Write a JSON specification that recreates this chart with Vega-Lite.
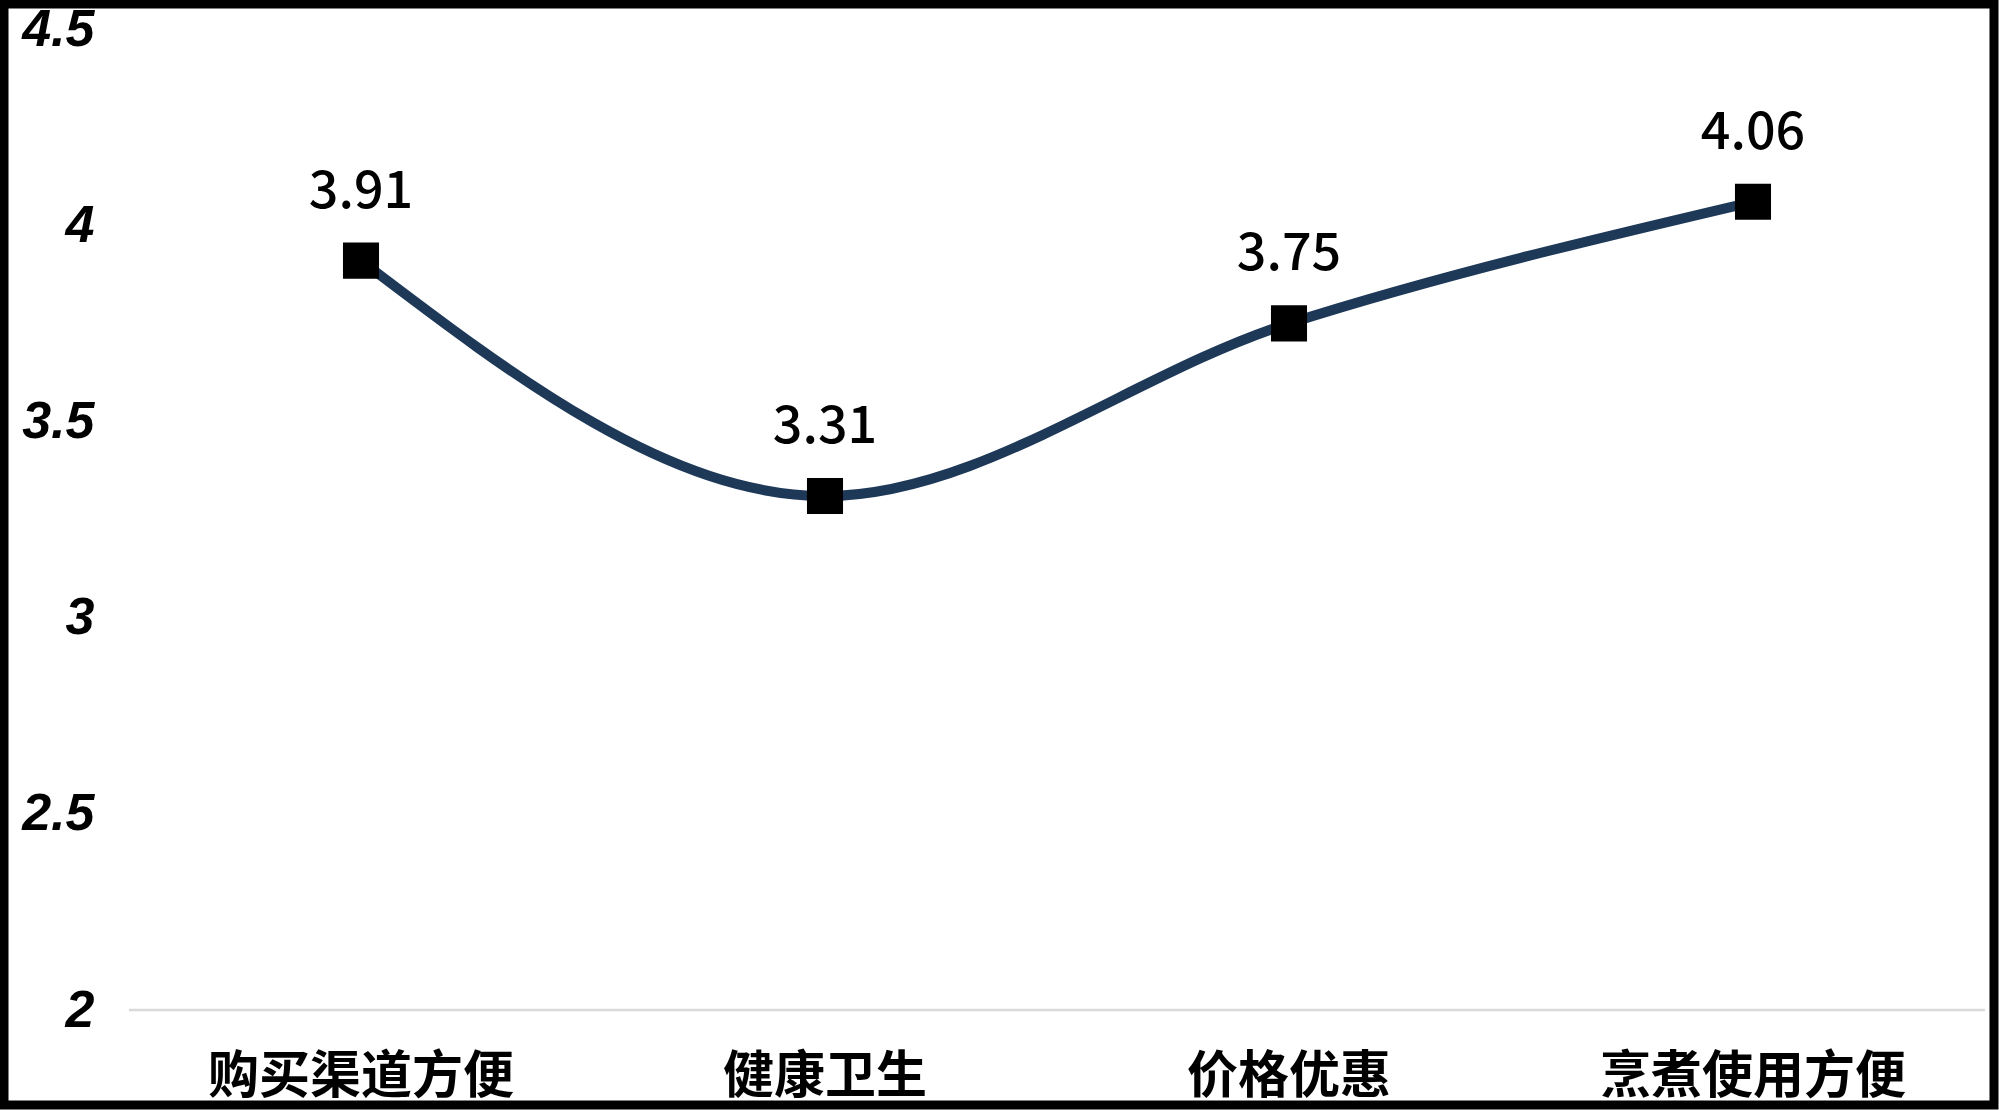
{
  "$schema": "https://vega.github.io/schema/vega-lite/v6.json",
  "width": 1990,
  "height": 1101,
  "autosize": {"type": "none"},
  "padding": {"left": 4, "top": 4, "right": 5, "bottom": 5},
  "background": "white",
  "config": {"view": {"stroke": "black", "strokeWidth": 9, "fill": "white"}},
  "data": {"values": [
    {"item": "购买渠道方便", "score": 3.91},
    {"item": "健康卫生", "score": 3.31},
    {"item": "价格优惠", "score": 3.75},
    {"item": "烹煮使用方便", "score": 4.06}
  ]},
  "encoding": {
    "x": {
      "field": "item", "type": "nominal", "sort": null,
      "scale": {"type": "band", "domain": ["购买渠道方便", "健康卫生", "价格优惠", "烹煮使用方便"], "paddingInner": 0, "paddingOuter": 0.1444, "align": 0.9328, "round": false},
      "axis": {"title": null, "orient": "bottom", "domain": false, "ticks": false, "grid": false, "labelAngle": 0, "labelLimit": 0,
        "labelPadding": -13, "labelBaseline": "alphabetic", "labelFont": "Noto Sans CJK SC", "labelFontSize": 51,
        "labelFontWeight": "bold", "labelColor": "black"}
    },
    "y": {
      "field": "score", "type": "quantitative",
      "scale": {"domain": [1.758, 4.564], "nice": false, "zero": false},
      "axis": {"title": null, "values": [2, 2.5, 3, 3.5, 4, 4.5], "format": "~g", "domain": false, "ticks": false, "grid": false,
        "labelPadding": -90, "labelAlign": "right", "labelBaseline": "middle", "labelFont": "Liberation Sans", "labelFontSize": 52,
        "labelFontWeight": "bold", "labelFontStyle": "italic", "labelColor": "black"}
    }
  },
  "layer": [
    {
      "data": {"values": [{"level": 2}]},
      "mark": {"type": "rule", "color": "#D9D9D9", "strokeWidth": 2.5},
      "encoding": {
        "x": {"datum": "购买渠道方便", "type": "nominal", "bandPosition": 0},
        "x2": {"datum": "烹煮使用方便", "bandPosition": 1},
        "y": {"field": "level", "type": "quantitative"}
      }
    },
    {"mark": {"type": "line", "interpolate": "monotone", "color": "#1E3858", "strokeWidth": 10}},
    {"mark": {"type": "square", "filled": true, "color": "black", "size": 1300, "opacity": 1}},
    {
      "mark": {"type": "text", "dy": -53, "baseline": "alphabetic", "font": "Noto Sans CJK SC", "fontSize": 52, "fontWeight": 500, "color": "black"},
      "encoding": {"text": {"field": "score", "type": "quantitative", "format": ".2f"}}
    }
  ]
}
